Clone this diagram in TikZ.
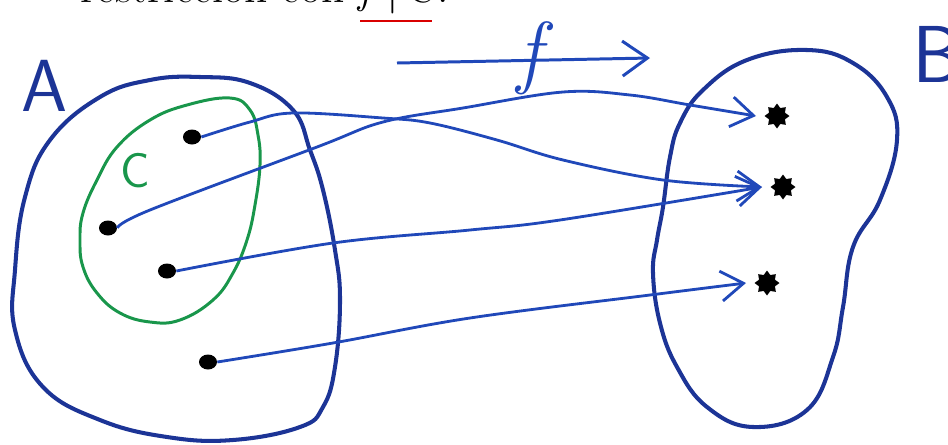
\documentclass[tikz,border=0pt]{standalone}
\usepackage{tikz}
\usetikzlibrary{arrows.meta,shapes.geometric}

\definecolor{ink}{RGB}{28,52,150}
\definecolor{penblue}{RGB}{32,72,185}
\definecolor{pengreen}{RGB}{25,150,75}

\begin{document}
\begin{tikzpicture}[
  x=0.02cm, y=-0.02cm,
  setline/.style={draw=ink, line width=2.3pt, line join=round},
  subline/.style={draw=pengreen, line width=1.7pt},
  elem/.style={ellipse, fill=black, inner sep=0pt, minimum width=0.36cm, minimum height=0.3cm},
  img/.style={star, star points=8, star point ratio=1.45, fill=black, inner sep=0pt, minimum size=0.5cm, outer sep=0.1cm},
  arr/.style={draw=penblue, line width=1.6pt, -{Straight Barb[length=4.5mm, width=6mm]}},
  lbl/.style={font=\sffamily\fontsize{42}{42}\selectfont, inner sep=0pt}
]
\useasboundingbox (0,0) rectangle (948,444);

% cut-off line of text at the top
\node[anchor=base east, font=\fontsize{26}{26}\selectfont, inner sep=0pt] (cap) at (345,2) {restricción con};
\node[anchor=base west, font=\fontsize{26}{26}\selectfont, inner sep=0pt] (restr) at (358,2) {\textit{f}\,|\,C.};
\draw[red!85!black, line width=1.4pt] (360,21) -- (432,21);

% the sets
\draw[setline] plot[smooth cycle, tension=0.7] coordinates {
  (25,197) (50,140) (100,97) (150,80) (200,77) (250,83) (293,110) (310,150)
  (323,190) (335,250) (340,300) (335,367) (323,407) (300,427) (233,440)
  (167,437) (100,420) (43,387) (15,330) (15,270)};
\draw[subline] plot[smooth cycle, tension=0.7] coordinates {
  (83,213) (97,180) (117,147) (150,120) (187,105) (230,98) (250,110) (258,135)
  (260,165) (255,205) (247,240) (233,273) (213,300) (180,320) (150,322)
  (120,313) (97,293) (83,267) (80,240)};
\draw[setline] plot[smooth cycle, tension=0.7] coordinates {
  (807,50) (853,63) (887,97) (897,140) (880,200) (853,247) (843,307)
  (833,357) (807,410) (753,427) (707,407) (677,367) (660,323) (653,273)
  (657,240) (663,207) (670,157) (680,123) (703,90) (747,60)};

\node[lbl, ink] (labA) at (45,86) {A};
\node[lbl, ink, anchor=west, font=\sffamily\fontsize{46}{46}\selectfont] (labB) at (912,54) {B};
\node[font=\sffamily\fontsize{28}{28}\selectfont, pengreen, inner sep=0pt] (labC) at (135,171) {C};

% elements of A and their images
\node[elem] (a1) at (192,137) {};
\node[elem] (a2) at (108,228) {};
\node[elem] (a3) at (167,271) {};
\node[elem] (a4) at (208,362) {};
\node[img] (b1) at (777,116) {};
\node[img] (b2) at (783,187) {};
\node[img] (b3) at (767,283) {};

\draw[arr] plot[smooth, tension=0.6] coordinates {(a1.east) (250,122) (293,113) (383,118) (430,123) (497,140) (563,160) (663,180) (b2.west)};
\draw[arr] plot[smooth, tension=0.6] coordinates {(a2.east) (150,210) (317,147) (383,122) (463,108) (563,92) (630,95) (690,105) (b1.west)};
\draw[arr] plot[smooth, tension=0.6] coordinates {(a3.east) (333,243) (470,230) (560,220) (b2.west)};
\draw[arr] plot[smooth, tension=0.6] coordinates {(a4.east) (333,343) (470,318) (650,295) (b3.west)};

% the map f
\coordinate (fs) at (397,63);
\coordinate (fe) at (650,58);
\draw[draw=penblue, line width=1.7pt, -{Straight Barb[length=5mm, width=7mm]}] (fs) -- (fe);
\node[font=\itshape\fontsize{46}{46}\selectfont, penblue, inner sep=0pt] (fl) at (530,58) {f};
\end{tikzpicture}
\end{document}
